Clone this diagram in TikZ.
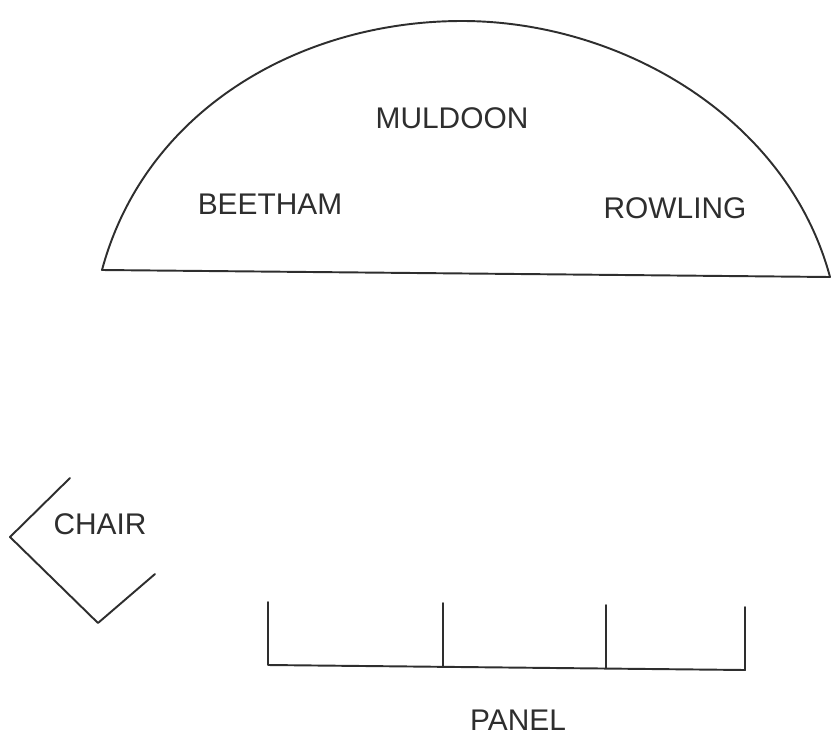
\documentclass[tikz,border=0pt]{standalone}
\usepackage{fontspec}
\setmainfont{Liberation Sans}
\usepackage{xcolor}
\usetikzlibrary{positioning}
\definecolor{pencil}{HTML}{2E2E2E}
\tikzset{
  sketch/.style={draw=pencil, line width=1.1pt, line cap=round, line join=round},
  seat/.style={font=\fontsize{17}{19}\selectfont, text=pencil, inner sep=1pt},
}

\begin{document}
\begin{tikzpicture}[x=0.02cm, y=-0.02cm]
\useasboundingbox (0,0) rectangle (831,737);

% ------------------------- stage ----------------------------------------
\draw[sketch] (102,270) .. controls (145,110) and (300,21) .. (462,21)
                        .. controls (620,21) and (787,117) .. (830,277) -- cycle;
\node[seat] at (452,118) (muldoon) {MULDOON};
\node[seat] at (270,204) (beetham) {BEETHAM};
\node[seat] at (675,208) (rowling) {ROWLING};

% ------------------------- chair ----------------------------------------
\draw[sketch] (70,478) -- (10,537) -- (98,623) -- (155,574);
\node[seat] at (100,524) (chair) {CHAIR};

% ------------------------- panel ----------------------------------------
\draw[sketch] (268,602) -- (268,665) -- (745,670) -- (745,607);
\draw[sketch] (443,603) -- (443,667);
\draw[sketch] (606,605) -- (606,668);
\node[seat] at (518,720) (panel) {PANEL};
\end{tikzpicture}
\end{document}
